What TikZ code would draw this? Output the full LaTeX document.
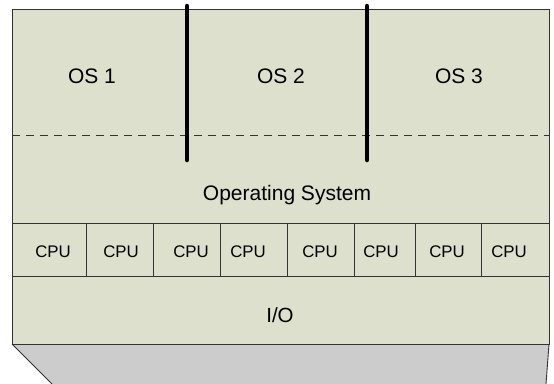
\documentclass[tikz,border=0pt]{standalone}
\usepackage{fontspec}
\setmainfont{Liberation Sans}
\usepackage{tikz}
\usetikzlibrary{calc}
\usepackage{xcolor}
\definecolor{layerfill}{HTML}{DCE0CC}
\definecolor{baseshade}{HTML}{CCCCCC}
\definecolor{edgegray}{HTML}{333333}

\tikzset{
  bigtext/.style={anchor=base,font=\fontsize{21}{25}\selectfont},
  cputext/.style={anchor=base,font=\fontsize{16.8}{20}\selectfont},
  layerline/.style={edgegray,line width=0.9pt},
  partition/.style={line width=4.5pt,line cap=round,black}
}

\begin{document}
\begin{tikzpicture}[x=1pt,y=-1pt]
  \useasboundingbox (0,0) rectangle (554,383);
  % base of the machine
  \fill[baseshade] (12,344) -- (549,344) -- (546,384) -- (52,384) -- cycle;
  \draw[layerline] (12,344) -- (52,384);
  \draw[layerline] (549,344) -- (546,384);
  % layers
  \draw[layerline,fill=layerfill] (12,9.5) rectangle (549,344);
  \draw[edgegray,line width=0.8pt,dash pattern=on 8pt off 6pt] (12,135) -- (549,135);
  \draw[layerline] (12,223) -- (549,223);
  \draw[layerline] (12,276) -- (549,276);
  \foreach \x in {86,153,220,287,354,415,481}
    \draw[layerline] (\x,223) -- (\x,276);
  % partitions between the guests
  \coordinate (bartopA) at (187,6);
  \coordinate (barbotA) at (187,160);
  \coordinate (bartopB) at (367,6);
  \coordinate (barbotB) at (367,160);
  \draw[partition] (bartopA) -- (barbotA);
  \draw[partition] (bartopB) -- (barbotB);
  % labels
  \node[bigtext] (os1) at (92,83) {OS 1};
  \node[bigtext] (os2) at (281,83) {OS 2};
  \node[bigtext] (os3) at (459,83) {OS 3};
  \node[bigtext] (opsys) at (287,200) {Operating System};
  \foreach \x [count=\i] in {53,121,191,248,320,381,447,509}
    \node[cputext] (cpu\i) at (\x,257) {CPU};
  \node[bigtext,font=\fontsize{20.5}{24}\selectfont] (io) at (280,322) {I/O};
\end{tikzpicture}
\end{document}
